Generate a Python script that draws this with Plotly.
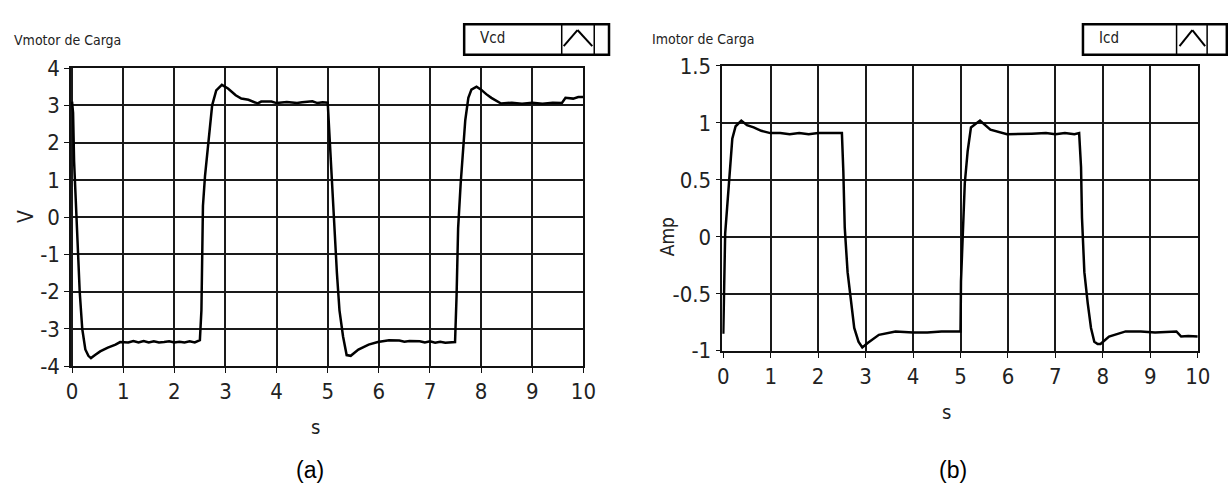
import plotly.graph_objects as go

# ---------------- data ----------------
t_v = [0, 0.02, 0.04, 0.07, 0.09, 0.11, 0.15, 0.2, 0.26, 0.32, 0.37, 0.45, 0.55, 0.7, 0.85, 0.94,
       1.1, 1.2, 1.3, 1.4, 1.5, 1.6, 1.7, 1.8, 1.9, 2.0, 2.1, 2.2, 2.3, 2.4, 2.5,
       2.53, 2.56, 2.6, 2.66, 2.74, 2.82, 2.93, 3.05, 3.2, 3.31, 3.45, 3.63, 3.7, 3.9,
       4.0, 4.2, 4.4, 4.5, 4.7, 4.8, 4.9, 5.0,
       5.03, 5.07, 5.1, 5.14, 5.18, 5.23, 5.3, 5.37, 5.45, 5.6, 5.8, 5.98,
       6.1, 6.2, 6.4, 6.5, 6.6, 6.8, 6.9, 7.0, 7.1, 7.2, 7.3, 7.4, 7.49,
       7.52, 7.55, 7.6, 7.64, 7.69, 7.75, 7.81, 7.91, 8.0, 8.1, 8.2, 8.39,
       8.6, 8.8, 9.0, 9.2, 9.4, 9.58, 9.65, 9.8, 9.9, 10.0]
v_cd = [3.1, 2.8, 1.5, 0.6, 0.0, -1.0, -2.0, -3.0, -3.55, -3.72, -3.78, -3.7, -3.6, -3.5, -3.42, -3.35,
        -3.36, -3.32, -3.36, -3.32, -3.36, -3.33, -3.36, -3.35, -3.33, -3.36, -3.34, -3.36, -3.33, -3.36, -3.3,
        -2.5, 0.3, 1.1, 2.0, 3.0, 3.4, 3.55, 3.45, 3.27, 3.18, 3.15, 3.05, 3.1, 3.1,
        3.06, 3.09, 3.06, 3.08, 3.11, 3.06, 3.08, 3.07,
        2.3, 1.3, 0.7, -0.6, -1.5, -2.5, -3.2, -3.7, -3.72, -3.55, -3.42, -3.35,
        -3.33, -3.3, -3.31, -3.34, -3.32, -3.33, -3.36, -3.33, -3.37, -3.34, -3.37, -3.35, -3.35,
        -2.1, -0.3, 0.9, 1.75, 2.6, 3.2, 3.42, 3.5, 3.42, 3.3, 3.2, 3.05,
        3.07, 3.04, 3.07, 3.04, 3.07, 3.06, 3.2, 3.18, 3.22, 3.22]

t_i = [0, 0.02, 0.04, 0.08, 0.12, 0.16, 0.19, 0.26, 0.38, 0.5, 0.64, 0.8, 0.99,
       1.2, 1.4, 1.6, 1.8, 2.0, 2.2, 2.4, 2.5,
       2.53, 2.56, 2.62, 2.69, 2.76, 2.85, 2.93, 3.05, 3.28, 3.63,
       4.0, 4.3, 4.6, 4.8, 5.0,
       5.01, 5.05, 5.09, 5.15, 5.22, 5.41, 5.63, 5.98,
       6.2, 6.5, 6.8, 7.0, 7.2, 7.4, 7.5,
       7.54, 7.56, 7.61, 7.68, 7.75, 7.82, 7.89, 7.95, 8.13, 8.48,
       8.8, 9.1, 9.4, 9.55, 9.65, 9.8, 10.0]
i_cd = [-0.85, -0.47, 0.03, 0.25, 0.47, 0.69, 0.86, 0.97, 1.02, 0.98, 0.96, 0.93, 0.91,
        0.91, 0.9, 0.91, 0.9, 0.91, 0.91, 0.91, 0.91,
        0.58, 0.08, -0.31, -0.58, -0.8, -0.92, -0.97, -0.93, -0.86, -0.83,
        -0.84, -0.84, -0.83, -0.83, -0.83,
        -0.39, 0.03, 0.47, 0.75, 0.96, 1.02, 0.94, 0.90,
        0.90, 0.905, 0.91, 0.9, 0.91, 0.9, 0.91,
        0.61, 0.17, -0.31, -0.58, -0.8, -0.92, -0.94, -0.94, -0.875, -0.83,
        -0.83, -0.84, -0.83, -0.83, -0.875, -0.87, -0.875]

x_ticks = list(range(0, 11))
v_ticks = [-4, -3, -2, -1, 0, 1, 2, 3, 4]
v_tick_text = ["-4", "-3", "-2", "-1", "0", "1", "2", "3", "4"]
i_ticks = [-1, -0.5, 0, 0.5, 1, 1.5]
i_tick_text = ["-1", "-0.5", "0", "0.5", "1", "1.5"]

# ---------------- layout helpers ----------------
W, H = 1228, 498
def px(x):
    return x / W
def py(y):
    return 1 - y / H

NARROW = "DejaVu Sans Condensed, Liberation Sans Narrow, sans-serif"
TICKFONT = dict(family=NARROW, size=22, color="#222222")

fig = go.Figure()
fig.add_trace(go.Scatter(x=t_v, y=v_cd, mode="lines", line=dict(color="black", width=2.5),
                         xaxis="x", yaxis="y", showlegend=False))
fig.add_trace(go.Scatter(x=t_i, y=i_cd, mode="lines", line=dict(color="black", width=2.5),
                         xaxis="x2", yaxis="y2", showlegend=False))

axis_common = dict(showgrid=True, gridcolor="#1a1a1a", gridwidth=1.5, zeroline=False,
                   showline=True, linecolor="#111111", linewidth=1.5, mirror=True,
                   ticks="outside", ticklen=5, tickwidth=1.2, tickcolor="#111111",
                   tickfont=TICKFONT)

fig.update_layout(
    width=W, height=H, margin=dict(l=0, r=0, t=0, b=0),
    paper_bgcolor="white", plot_bgcolor="white",
    xaxis=dict(domain=[px(67), px(587)], range=[-0.02, 10], tickvals=x_ticks,
               anchor="y", **axis_common),
    yaxis=dict(domain=[py(373), py(59)], range=[-4, 4], tickvals=v_ticks,
               ticktext=v_tick_text, anchor="x", **axis_common),
    xaxis2=dict(domain=[px(728), px(1210.5)], range=[-0.02, 10], tickvals=x_ticks,
                anchor="y2", **axis_common),
    yaxis2=dict(domain=[py(356.7), py(56.7)], range=[-1, 1.5], tickvals=i_ticks,
                ticktext=i_tick_text, anchor="x2", **axis_common),
)

ann = []
def text(x, y, s, size=14, family=NARROW, color="#222222", angle=0, xanchor="center"):
    ann.append(dict(x=px(x), y=py(y), xref="paper", yref="paper", text=s, showarrow=False,
                    font=dict(family=family, size=size, color=color), textangle=angle,
                    xanchor=xanchor, yanchor="middle"))

text(7, 29, "Vmotor de Carga", size=14, xanchor="left")
text(655, 28, "Imotor de Carga", size=14, xanchor="left")
text(495, 27, "Vcd", size=15)
text(1120, 27, "Icd", size=15)
text(22, 215, "V", size=21, angle=-90)
text(672, 237, "Amp", size=19, angle=-90)
text(315, 437, "s", size=20)
text(955, 421, "s", size=20)
text(310, 482, "(a)", size=23, family="Liberation Sans, Arial, sans-serif", color="black")
text(962, 482, "(b)", size=23, family="Liberation Sans, Arial, sans-serif", color="black")
fig.update_layout(annotations=ann)

shapes = []
def rect(x0, y0, x1, y1, w=2, color="black"):
    shapes.append(dict(type="rect", xref="paper", yref="paper", x0=px(x0), x1=px(x1),
                       y0=py(y1), y1=py(y0), line=dict(color=color, width=w)))
def line(x0, y0, x1, y1, w=2, color="black"):
    shapes.append(dict(type="line", xref="paper", yref="paper", x0=px(x0), x1=px(x1),
                       y0=py(y0), y1=py(y1), line=dict(color=color, width=w)))

# legend box left
rect(466, 13, 613, 45, w=2.5)
line(565, 13, 565, 45, w=1.5)
line(598, 13, 598, 45, w=1.5)
line(567, 36, 581, 19, w=2)
line(581, 19, 596, 36, w=2)
# legend box right
rect(1094, 13, 1240, 45, w=2.5)
line(1189, 13, 1189, 45, w=1.5)
line(1220, 13, 1220, 45, w=1.5)
line(1192, 36, 1205, 19, w=2)
line(1205, 19, 1218, 36, w=2)
fig.update_layout(shapes=shapes)

fig.write_html("out.html")
